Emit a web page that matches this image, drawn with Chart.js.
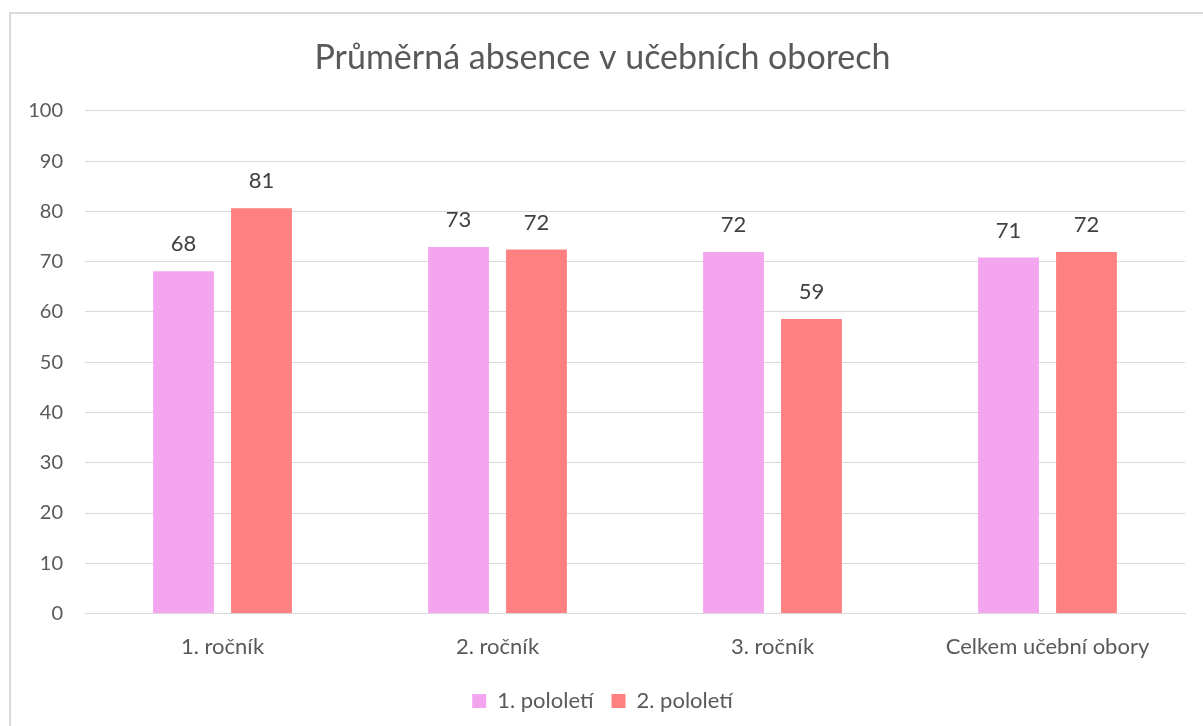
<!DOCTYPE html>
<html>
<head>
<meta charset="utf-8">
<script src="https://cdn.jsdelivr.net/npm/chart.js@4"></script>
<style>
  body { margin: 0; background: #fff; }
  #frame { position: absolute; left: 9px; top: 12px; width: 1200px; height: 720px; border: 2px solid #d9d9d9; box-sizing: border-box; }
  #wrap { position: absolute; left: 0; top: 0; width: 1203px; height: 726px; }
</style>
</head>
<body>
<div id="frame"></div>
<div id="wrap"><canvas id="chart" width="1203" height="726"></canvas></div>
<script>
const categories = ['1. ročník', '2. ročník', '3. ročník', 'Celkem učební obory'];
const seriesNames = ['1. pololetí', '2. pololetí'];
const firstHalf = [68.1, 72.9, 71.9, 70.8];
const secondHalf = [80.6, 72.4, 58.6, 71.9];
const yTicks = [0, 10, 20, 30, 40, 50, 60, 70, 80, 90, 100];

const FONT = 'Lato, "Open Sans", sans-serif';

// value labels above each bar
const barLabels = {
    id: 'barLabels',
    afterDatasetsDraw(chart) {
        const ctx = chart.ctx;
        ctx.save();
        ctx.font = '22px ' + FONT;
        ctx.fillStyle = '#404040';
        ctx.textAlign = 'center';
        ctx.textBaseline = 'middle';
        chart.data.datasets.forEach((ds, i) => {
            chart.getDatasetMeta(i).data.forEach((bar, j) => {
                ctx.fillText(Math.round(ds.data[j]), bar.x, bar.y - 27);
            });
        });
        ctx.restore();
    }
};

new Chart(document.getElementById('chart'), {
    type: 'bar',
    data: {
        labels: categories,
        datasets: [
            { label: seriesNames[0], data: firstHalf, backgroundColor: '#f4a5ef' },
            { label: seriesNames[1], data: secondHalf, backgroundColor: '#ff8080' }
        ]
    },
    options: {
        responsive: false,
        animation: false,
        layout: { padding: { left: 20, right: 18, top: 0, bottom: 4 } },
        datasets: { bar: { categoryPercentage: 0.567, barPercentage: 0.78 } },
        scales: {
            x: {
                grid: { display: false },
                border: { color: '#d9d9d9', width: 1 },
                ticks: { font: { family: FONT, size: 22 }, color: '#595959', padding: 12 }
            },
            y: {
                min: 0,
                max: 100,
                afterBuildTicks(axis) { axis.ticks = yTicks.map(v => ({ value: v })); },
                afterFit(axis) { axis.width = 65; },
                grid: { color: '#d9d9d9', drawTicks: false },
                border: { display: false },
                ticks: { font: { family: FONT, size: 20 }, color: '#595959', padding: 22 }
            }
        },
        plugins: {
            title: {
                display: true,
                text: 'Průměrná absence v učebních oborech',
                font: { family: FONT, size: 34, weight: 'normal' },
                color: '#595959',
                padding: { top: 38, bottom: 32 }
            },
            legend: {
                position: 'bottom',
                labels: { font: { family: FONT, size: 22 }, color: '#595959', boxWidth: 14, boxHeight: 14, padding: 18 }
            },
            tooltip: { enabled: false }
        }
    },
    plugins: [barLabels]
});
</script>
</body>
</html>
